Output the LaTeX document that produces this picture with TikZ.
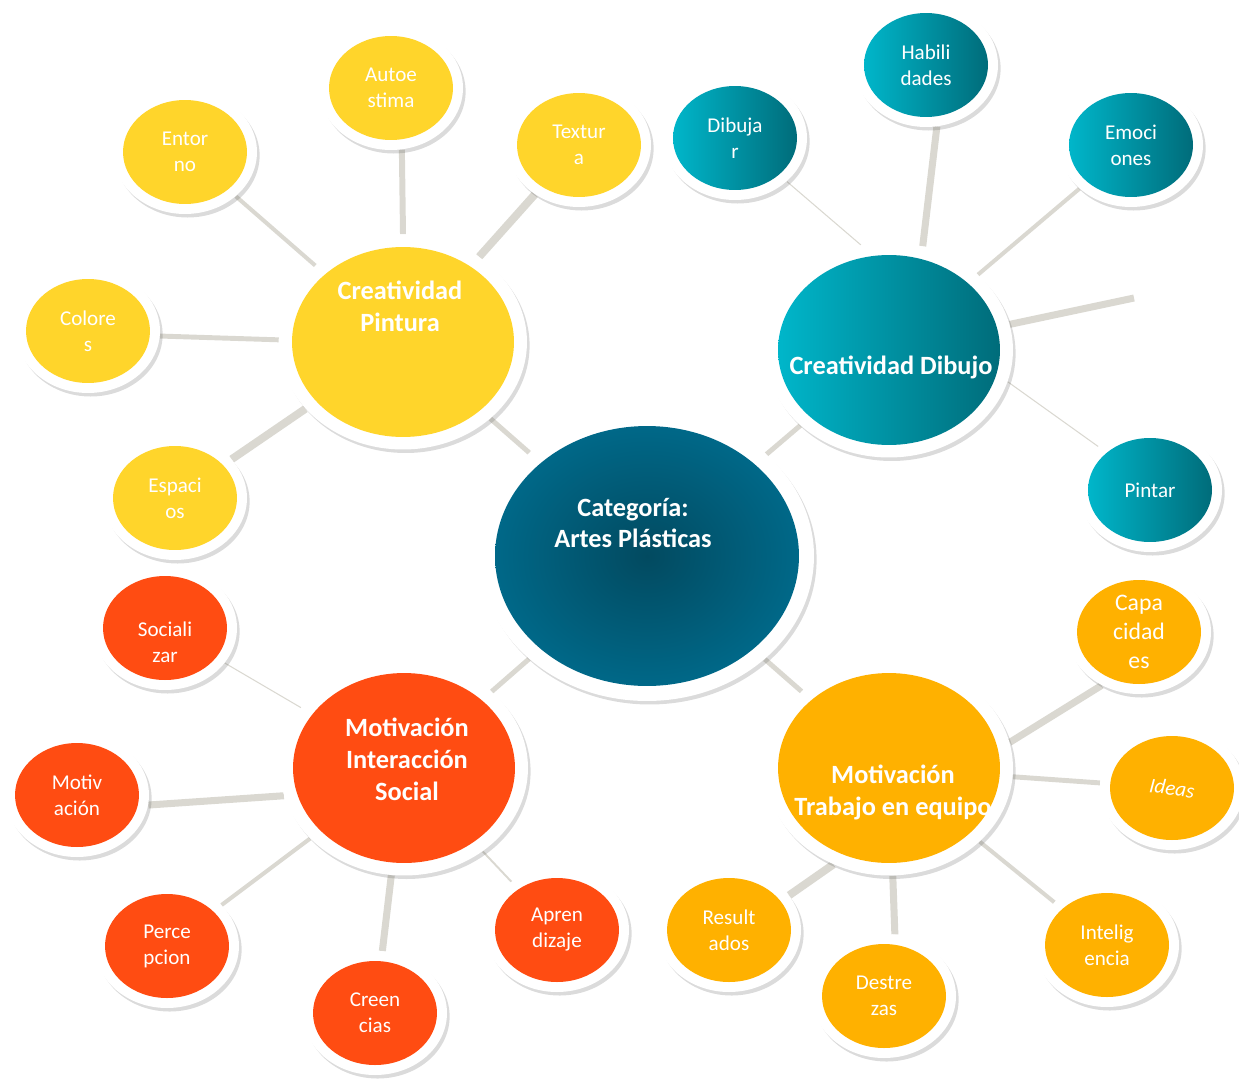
\documentclass[tikz,border=0pt]{standalone}
\usepackage{fontspec}
\setmainfont{Carlito}
\usetikzlibrary{shapes.geometric,shadows,backgrounds}
\definecolor{cYel}{RGB}{255,213,43}
\definecolor{cRed}{RGB}{255,76,18}
\definecolor{cOrg}{RGB}{255,177,0}
\definecolor{cTealL}{RGB}{0,182,202}
\definecolor{cTealD}{RGB}{0,108,122}
\definecolor{cCenL}{RGB}{0,104,136}
\definecolor{cCenD}{RGB}{2,74,96}
\definecolor{cLink}{RGB}{218,216,209}
\tikzstyle{Brim}=[ellipse,fill=white,inner sep=0,minimum width=2.88cm,minimum height=2.48cm,
               drop shadow={shadow xshift=1.5pt,shadow yshift=-2pt,fill=black!70,opacity=0.2}]
\tikzstyle{Bsol}=[ellipse,inner sep=0,minimum width=2.48cm,minimum height=2.08cm]
\tikzstyle{Btxt}=[text=white,align=center,font=\fontsize{12}{14.8}\selectfont]
\tikzstyle{Hrim}=[Brim,minimum width=4.96cm,minimum height=4.3cm]
\tikzstyle{Hsol}=[Bsol,minimum width=4.44cm,minimum height=3.8cm]
\tikzstyle{Htxt}=[text=white,align=center,font=\fontsize{15}{18.2}\selectfont\bfseries]
\tikzstyle{yel}=[fill=cYel]
\tikzstyle{rd}=[fill=cRed]
\tikzstyle{org}=[fill=cOrg]
\tikzstyle{tl}=[left color=cTealL,right color=cTealD]
\tikzstyle{lk}=[draw=cLink]
\newcommand{\bub}[6][]{\node[Brim] (#2) at (#3,#4) {};\node[Bsol,#5] (#2c) at (#3,#4) {};\node[Btxt,#1] (#2t) at (#3,#4) {#6};}
\newcommand{\hub}[4]{\node[Hrim] (#1) at (#2,#3) {};\node[Hsol,#4] (#1c) at (#2,#3) {};}

\begin{document}
\begin{tikzpicture}[x=0.02cm,y=-0.02cm]
  \useasboundingbox (0,0) rectangle (1239,1078);

  % centre
  \node[Brim,minimum width=6.68cm,minimum height=5.8cm] (cen) at (647,556) {};
  \node[Bsol,minimum width=6.08cm,minimum height=5.2cm,inner color=cCenD,outer color=cCenL] (cenc) at (647,556) {};
  \node[Htxt] (cent) at (633,523) {Categoría:\\Artes Plásticas};

  \hub{pin}{403}{342}{yel};
  \node[Htxt] (pint) at (400,306) {Creatividad\\Pintura};
  \hub{dib}{889}{350}{tl};
  \node[Htxt] (dibt) at (891,367) {Creatividad Dibujo};
  \hub{soc}{404}{768}{rd};
  \node[Htxt] (soct) at (407,759) {Motivación\\Interacción\\Social};
  \hub{equ}{889}{768}{org};
  \node[Htxt] (equt) at (893,792) {Motivación\\Trabajo en equipo};

  \bub{ent}{185}{152}{yel}{Entor\\no};
  \bub{aut}{391}{88}{yel}{Autoe\\stima};
  \bub{tex}{579}{145}{yel}{Textur\\a};
  \bub{col}{88}{331}{yel}{Colore\\s};
  \bub{esp}{175}{498}{yel}{Espaci\\os};

  \bub{dbj}{735}{138}{tl}{Dibuja\\r};
  \bub{hab}{926}{65}{tl}{Habili\\dades};
  \bub{emo}{1131}{145}{tl}{Emoci\\ones};
  \bub{ptr}{1150}{490}{tl}{Pintar};
  \coordinate (dibE) at (1134,298);

  \bub[yshift=-8pt]{sol}{165}{628}{rd}{Sociali\\zar};
  \bub{mot}{77}{795}{rd}{Motiv\\ación};
  \bub{per}{167}{946}{rd}{Perce\\pcion};
  \bub{cre}{375}{1013}{rd}{Creen\\cias};
  \bub{apr}{557}{930}{rd}{Apren\\dizaje};

  \bub[font=\fontsize{13.5}{16.5}\selectfont]{cap}{1139}{632}{org}{Capa\\cidad\\es};
  \bub[rotate=-8,font=\fontsize{12}{14.8}\selectfont\itshape]{ide}{1172}{788}{org}{Ideas};
  \bub{itg}{1107}{945}{org}{Intelig\\encia};
  \bub{des}{884}{996}{org}{Destre\\zas};
  \bub{res}{729}{930}{org}{Result\\ados};

  \begin{scope}[on background layer]
    \draw[lk,line width=2.8pt] (cen) -- (pin) (cen) -- (dib) (cen) -- (soc) (cen) -- (equ);
    \draw[lk,line width=2.3pt] (pin) -- (ent);
    \draw[lk,line width=3.4pt] (aut.-80) -- (pin.90);
    \draw[lk,line width=4.5pt] (pin) -- (tex) (pin) -- (esp);
    \draw[lk,line width=2.8pt] (col.-4) -- (pin.179);
    \draw[lk,line width=0.6pt] (dbj.-40) -- (dib.105) (dib.-15) -- (ptr.140);
    \draw[lk,line width=4pt] (hab.-80) -- (dib.72) (dib) -- (dibE);
    \draw[lk,line width=2.3pt] (dib) -- (emo);
    \draw[lk,line width=0.6pt] (soc) -- (sol);
    \draw[lk,line width=4pt] (mot.-8) -- (soc.193) (soc) -- (cre);
    \draw[lk,line width=2.3pt] (soc) -- (per);
    \draw[lk,line width=1.1pt] (soc) -- (apr);
    \draw[lk,line width=4pt] (equ.12) -- (cap.-125) (equ.-88) -- (des.80);
    \draw[lk,line width=2.8pt] (equ) -- (ide);
    \draw[lk,line width=2.3pt] (equ) -- (itg);
    \draw[lk,line width=4.5pt] (equ.-120) -- (res.30);
  \end{scope}
\end{tikzpicture}
\end{document}
